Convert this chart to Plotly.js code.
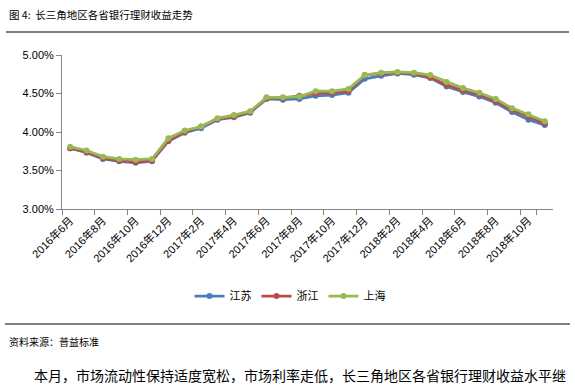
<!DOCTYPE html>
<html>
<head>
<meta charset="utf-8">
<script src="https://cdn.plot.ly/plotly-3.0.1.min.js"></script>
<style>html,body{margin:0;padding:0;background:#fff;}#chart{width:575px;height:389px;}</style>
</head>
<body>
<div id="chart"></div>
<script>
const months = [
  '2016年6月','2016年7月','2016年8月','2016年9月','2016年10月','2016年11月','2016年12月',
  '2017年1月','2017年2月','2017年3月','2017年4月','2017年5月','2017年6月','2017年7月',
  '2017年8月','2017年9月','2017年10月','2017年11月','2017年12月','2018年1月','2018年2月',
  '2018年3月','2018年4月','2018年5月','2018年6月','2018年7月','2018年8月','2018年9月',
  '2018年10月','2018年11月'
];
const jiangsu = [3.79,3.73,3.65,3.62,3.60,3.62,3.88,3.99,4.05,4.16,4.19,4.25,4.43,4.42,4.43,4.47,4.48,4.51,4.69,4.73,4.76,4.745,4.70,4.59,4.52,4.46,4.38,4.26,4.16,4.09];
const zhejiang = [3.79,3.74,3.66,3.63,3.61,3.63,3.89,4.00,4.07,4.17,4.20,4.26,4.44,4.44,4.47,4.50,4.51,4.53,4.74,4.76,4.77,4.76,4.71,4.61,4.54,4.49,4.40,4.29,4.20,4.11];
const shanghai = [3.81,3.76,3.68,3.65,3.64,3.65,3.92,4.02,4.07,4.18,4.22,4.27,4.45,4.45,4.46,4.53,4.53,4.56,4.74,4.77,4.78,4.77,4.74,4.65,4.57,4.51,4.43,4.31,4.23,4.14];
const seriesNames = ['江苏','浙江','上海'];
const yTickVals = [3.0,3.5,4.0,4.5,5.0];
const yTickText = ['3.00%','3.50%','4.00%','4.50%','5.00%'];
const tickLabelMonths = months.filter((m,i)=>i%2===0);

const colors = ['#4A7EBB','#BE4B48','#98B954'];
const cjk = '"Liberation Sans", Arial, "Noto Sans CJK SC", sans-serif';
const cjkText = '"Noto Sans CJK SC", sans-serif';

const data = [jiangsu, zhejiang, shanghai].map((ys, k) => ({
  type: 'scatter', mode: 'lines+markers',
  x: months, y: ys.map(v => v), name: seriesNames[k],
  line: {color: colors[k], width: 2.75},
  marker: {color: colors[k], size: 6, symbol: 'circle'},
  hoverinfo: 'skip'
}));

const W = 491, H = 154, L = 62, T = 55;
const px = x => (x - L) / W;
const py = y => (T + H - y) / H;

const layout = {
  width: 575, height: 389,
  margin: {l: 62, r: 22, t: 55, b: 180},
  paper_bgcolor: '#fff', plot_bgcolor: '#fff',
  showlegend: true,
  legend: {orientation: 'h', x: px(290), y: py(296), xanchor: 'center', yanchor: 'middle',
           font: {family: cjkText, size: 11, color: '#000'}, itemwidth: 30, tracegroupgap: 0},
  xaxis: {
    type: 'category', range: [-0.5, 29.5], tickson: 'boundaries',
    tickmode: 'array', tickvals: tickLabelMonths, ticktext: tickLabelMonths,
    tickangle: -45, ticks: 'outside', ticklen: 5, tickcolor: '#868686',
    showline: true, linecolor: '#868686', linewidth: 1, showgrid: false, zeroline: false,
    tickfont: {family: cjk, size: 11, color: '#000'}, fixedrange: true
  },
  yaxis: {
    range: [3, 5], tickmode: 'array', tickvals: yTickVals, ticktext: yTickText,
    ticks: 'outside', ticklen: 5, tickcolor: '#868686',
    showline: true, linecolor: '#868686', linewidth: 1, showgrid: false, zeroline: false,
    tickfont: {family: cjk, size: 11, color: '#000'}, fixedrange: true
  },
  shapes: [
    {type: 'line', xref: 'paper', yref: 'paper', x0: px(6), x1: px(569), y0: py(32), y1: py(32), line: {color: '#000', width: 1.2}},
    {type: 'line', xref: 'paper', yref: 'paper', x0: px(5), x1: px(570), y0: py(324), y1: py(324), line: {color: '#000', width: 1.2}}
  ],
  annotations: [
    {xref: 'paper', yref: 'paper', x: px(7), y: py(15), xanchor: 'left', yanchor: 'middle', showarrow: false,
     text: '图 4:  长三角地区各省银行理财收益走势', font: {family: cjkText, size: 10.5, color: '#000'}},
    {xref: 'paper', yref: 'paper', x: px(7), y: py(341), xanchor: 'left', yanchor: 'middle', showarrow: false,
     text: '资料来源：普益标准', font: {family: cjkText, size: 10, color: '#000'}},
    {xref: 'paper', yref: 'paper', x: px(32), y: py(375), xanchor: 'left', yanchor: 'middle', showarrow: false,
     text: '本月，市场流动性保持适度宽松，市场利率走低，长三角地区各省银行理财收益水平继', font: {family: cjkText, size: 14, color: '#000'}}
  ]
};

Plotly.newPlot('chart', data, layout, {displayModeBar: false, staticPlot: true});
</script>
</body>
</html>
